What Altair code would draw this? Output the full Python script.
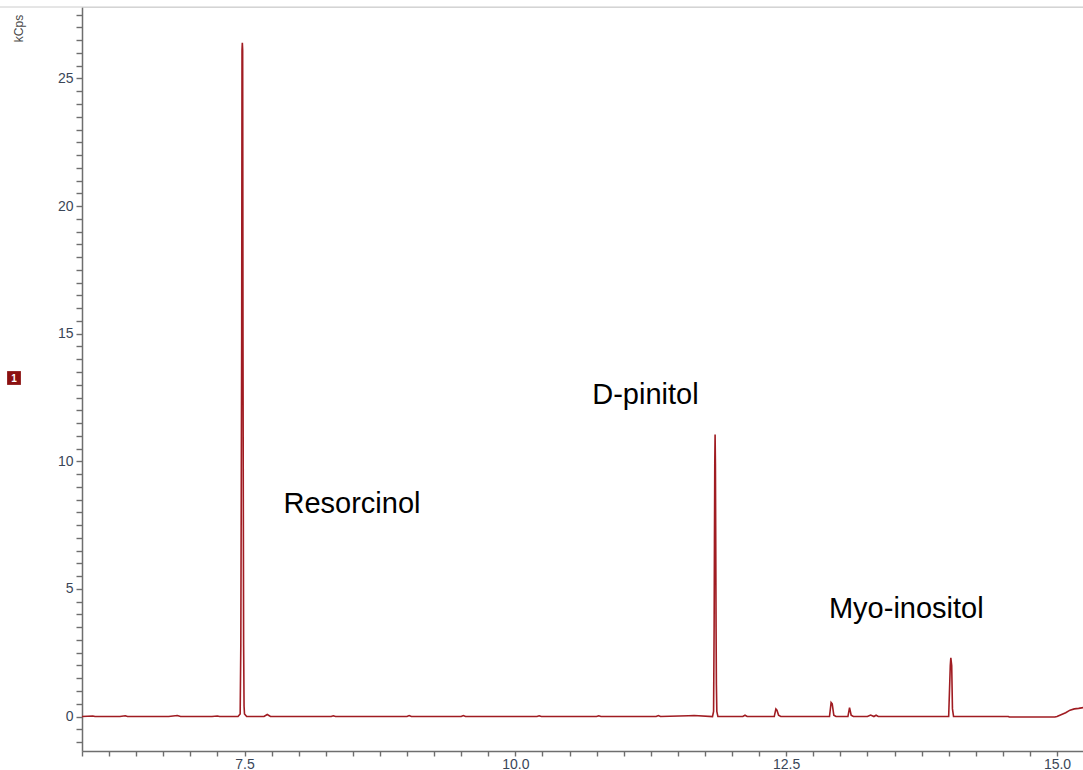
import altair as alt
import pandas as pd

# Retention time (min) and detector response (kCps) of the GC trace
rt = [
    6.00, 6.10, 6.12, 6.35, 6.40, 6.42, 6.80, 6.88, 6.91, 7.20, 7.25, 7.27,
    7.44, 7.460, 7.466, 7.470, 7.474, 7.477, 7.480, 7.483, 7.486, 7.489, 7.492, 7.496, 7.50, 7.52,
    7.68, 7.71, 7.74, 8.30, 8.32, 8.34, 9.00, 9.02, 9.04, 9.50, 9.52, 9.54,
    10.20, 10.22, 10.24, 10.75, 10.77, 10.79, 11.30, 11.32, 11.34, 11.60, 11.65,
    11.82, 11.830, 11.835, 11.838, 11.841, 11.844, 11.847, 11.850, 11.853, 11.856, 11.860, 11.87,
    12.10, 12.12, 12.14, 12.39, 12.405, 12.415, 12.43, 12.45,
    12.90, 12.915, 12.925, 12.94, 12.96, 13.07, 13.085, 13.10, 13.12,
    13.25, 13.28, 13.31, 13.33, 13.35,
    14.00, 14.015, 14.02, 14.028, 14.035, 14.045,
    14.55, 14.56, 14.98, 15.00, 15.08, 15.12, 15.16, 15.20, 15.24,
]
kcps = [
    0.00, 0.02, 0.00, 0.00, 0.03, 0.00, 0.00, 0.04, 0.00, 0.00, 0.02, 0.00,
    0.00, 0.10, 2.80, 8.50, 14.90, 26.10, 26.40, 26.10, 14.90, 8.50, 2.80, 0.40, 0.10, 0.00,
    0.00, 0.08, 0.00, 0.00, 0.03, 0.00, 0.00, 0.04, 0.00, 0.00, 0.04, 0.00,
    0.00, 0.03, 0.00, 0.00, 0.03, 0.00, 0.00, 0.04, 0.00, 0.03, 0.04,
    0.00, 0.20, 3.50, 6.80, 9.90, 11.05, 9.90, 6.80, 3.50, 1.25, 0.20, 0.00,
    0.00, 0.05, 0.00, 0.00, 0.30, 0.25, 0.05, 0.00,
    0.00, 0.55, 0.50, 0.05, 0.00, 0.00, 0.35, 0.05, 0.00,
    0.00, 0.06, 0.00, 0.05, 0.00,
    0.00, 2.00, 2.30, 2.00, 0.30, 0.00,
    0.00, -0.02, -0.02, 0.00, 0.15, 0.25, 0.30, 0.32, 0.35,
]

# Compound labels and where they sit (time, kCps baseline)
peak_names = ["Resorcinol", "D-pinitol", "Myo-inositol"]
label_rt = [7.86, 10.71, 12.895]
label_kcps = [7.99, 12.26, 3.88]

# Axis ticks: minor every 0.25 min / 0.5 kCps, labelled every 2.5 min / 5 kCps
x_ticks = [round(6.0 + 0.25 * i, 2) for i in range(37)]
y_ticks = [round(-1.0 + 0.5 * i, 1) for i in range(58)]

W, H = 1001, 744
TRACE = "#a01c22"
AXIS_GREY = "#6e6e6e"
LABEL_COL = "#3a4658"

trace = pd.DataFrame({"rt": rt, "kcps": kcps})
labels = pd.DataFrame({"name": peak_names, "rt": label_rt, "kcps": label_kcps})
one = pd.DataFrame({"k": [0]})

x_scale = alt.Scale(domain=[6.0, 15.24], nice=False, zero=False)
y_scale = alt.Scale(domain=[-1.35, 27.8], nice=False, zero=False)

x_axis = alt.Axis(
    values=x_ticks,
    labelExpr="datum.value % 2.5 == 0 ? format(datum.value, '.1f') : ''",
    labelOverlap=False,
    grid=False,
    ticks=True,
    title=None,
    domainColor=AXIS_GREY,
    domainWidth=1.5,
    tickColor=AXIS_GREY,
    tickWidth=1.4,
    tickSize=5,
    labelFont="Liberation Sans",
    labelFontSize=14,
    labelColor=LABEL_COL,
    labelPadding=1,
)
y_axis = alt.Axis(
    values=y_ticks,
    labelExpr="datum.value % 5 == 0 ? format(datum.value, 'd') : ''",
    labelOverlap=False,
    grid=False,
    ticks=True,
    title="kCps",
    titleX=-64,
    titleY=21,
    titleAngle=270,
    titleAlign="center",
    titleBaseline="middle",
    titleFont="Liberation Sans",
    titleFontSize=12,
    titleFontWeight="normal",
    titleColor="#4a4a4a",
    domainColor=AXIS_GREY,
    domainWidth=1.5,
    tickColor=AXIS_GREY,
    tickWidth=1.4,
    tickSize=6,
    labelFont="Liberation Sans",
    labelFontSize=14,
    labelColor=LABEL_COL,
    labelPadding=3,
)

line = alt.Chart(trace).mark_line(color=TRACE, strokeWidth=1.6, clip=True).encode(
    x=alt.X("rt:Q", scale=x_scale, axis=x_axis),
    y=alt.Y("kcps:Q", scale=y_scale, axis=y_axis),
)

names = alt.Chart(labels).mark_text(
    align="left", baseline="alphabetic", font="Liberation Sans", fontSize=29, color="#000000"
).encode(
    x=alt.X("rt:Q", scale=x_scale, axis=x_axis),
    y=alt.Y("kcps:Q", scale=y_scale, axis=y_axis),
    text="name:N",
)

top_rule = alt.Chart(one).mark_rule(color="#cccccc", strokeWidth=1).encode(
    x=alt.value(-82), x2=alt.value(W), y=alt.value(0)
)

badge = alt.Chart(one).mark_point(
    shape="square", filled=True, size=190, color="#8b1010", opacity=1
).encode(x=alt.value(-68), y=alt.value(371))

badge_text = alt.Chart(one).mark_text(
    text="1", color="white", fontSize=10, fontWeight="bold", font="Liberation Sans",
    align="center", baseline="middle"
).encode(x=alt.value(-68), y=alt.value(371.5))

chart = alt.layer(top_rule, line, names, badge, badge_text).properties(
    width=W,
    height=H,
    padding={"left": 82, "top": 7, "right": 0, "bottom": 19},
    autosize=alt.AutoSizeParams(type="none"),
).configure_view(stroke=None).configure(background="white")

chart.save("out.html", embed_options={"renderer": "svg", "actions": False})
